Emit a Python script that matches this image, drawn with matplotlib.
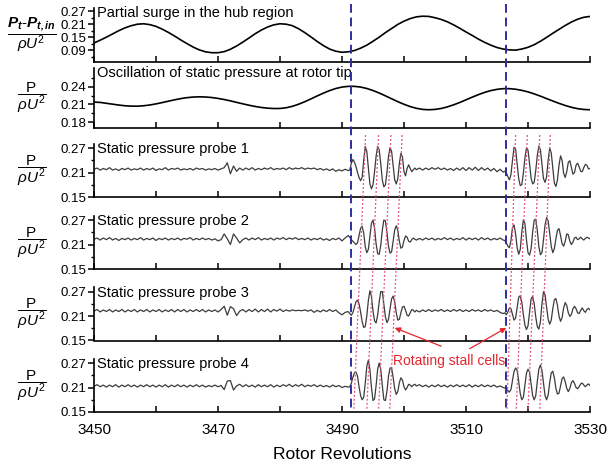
import numpy as np
import matplotlib
matplotlib.use('Agg')
import matplotlib.pyplot as plt
from matplotlib.lines import Line2D
from matplotlib.transforms import blended_transform_factory
from matplotlib.ticker import FixedLocator, FormatStrFormatter

plt.rcParams['font.family'] = ['Liberation Sans', 'DejaVu Sans']
plt.rcParams['mathtext.fontset'] = 'custom'
plt.rcParams['mathtext.rm'] = 'Liberation Sans'
plt.rcParams['mathtext.it'] = 'Liberation Sans:italic'
plt.rcParams['mathtext.bf'] = 'Liberation Sans:bold'
plt.rcParams['mathtext.bfit'] = 'Liberation Sans:italic:bold'

# ---------------- data ----------------
rev_coarse = np.arange(3450, 3531, 1)          # for the two smooth traces

hub_surge = [123, 136, 150, 165, 180, 193, 203, 210, 212,
             208, 200, 187, 172, 155, 137, 120, 104, 91, 82, 78,
             78, 83, 94, 109, 127, 146, 166, 183, 197, 207, 212,
             210, 203, 189, 171, 151, 130, 111, 95, 85, 80,
             82, 88, 99, 113, 131, 150, 171, 190, 209, 224, 236, 244, 247,
             246, 240, 232, 221, 207, 191, 174, 158, 141, 126, 113, 102, 95, 91,
             90, 95, 103, 115, 131, 149, 168, 186, 204, 220, 233, 242, 246]   # x1e-3

tip_static = [2140, 2135, 2120, 2105, 2090, 2078, 2072,
              2071, 2078, 2091, 2110, 2132, 2156, 2179, 2200, 2216, 2226, 2230,
              2227, 2218, 2203, 2184, 2161, 2136, 2111, 2087, 2066, 2049, 2037, 2031,
              2032, 2044, 2069, 2104, 2147, 2195, 2245, 2293, 2336, 2371, 2396, 2408,
              2408, 2396, 2372, 2337, 2295, 2247, 2197, 2148, 2103, 2064, 2035, 2016, 2010,
              2016, 2032, 2059, 2094, 2134, 2179, 2224, 2267, 2305, 2336, 2357, 2369,
              2369, 2359, 2340, 2314, 2280, 2242, 2200, 2159, 2119, 2083, 2052, 2029, 2015, 2010]  # x1e-4

# probe traces: sample grid (quiet parts 0.5 rev, stall parts 0.25 rev)
x_q1 = np.arange(3450.0, 3491.01, 0.5)
x_b1 = np.arange(3491.25, 3502.01, 0.25)
x_q2 = np.arange(3502.5, 3516.01, 0.5)
x_b2 = np.arange(3516.25, 3530.01, 0.25)

probe1_q1 = [218, 221, 216, 220, 217, 222, 216, 219, 215, 220,
             217, 221, 216, 219, 217, 221, 216, 220, 217, 221,
             215, 219, 217, 222, 216, 220, 218, 221, 216, 219,
             217, 220, 216, 221, 218, 220, 216, 219, 217, 220,
             216, 219, 222, 234, 207, 226, 213, 221, 216, 221,
             217, 222, 216, 220, 217, 221, 218, 222, 217, 220,
             218, 221, 217, 222, 218, 221, 219, 222, 218, 221,
             219, 221, 217, 220, 216, 219, 215, 219, 213, 217,
             214, 218, 215]
probe1_b1 = [216, 232, 242, 236, 225, 210, 198, 190, 198, 240, 274, 262,
             222, 182, 170, 180, 212, 250, 274, 266, 232, 192, 175, 180,
             210, 250, 271, 262, 228, 192, 182, 195, 232, 257, 248, 212,
             202, 220, 229, 220, 212, 217, 221, 217]
probe1_q2 = [221, 216, 221, 217, 222, 218, 222, 217, 221, 216,
             220, 215, 221, 216, 222, 215, 222, 216, 223, 215,
             222, 216, 221, 214, 220, 212, 218, 211]
probe1_b2 = [213, 210, 200, 192, 205, 240, 272, 268, 232, 195, 178, 180,
             208, 245, 270, 265, 232, 196, 182, 186, 215, 252, 275, 266,
             230, 195, 186, 200, 240, 270, 258, 220, 184, 176, 192, 228,
             251, 240, 208, 198, 212, 235, 239, 222, 206, 210, 228, 233,
             224, 213, 212, 222, 230, 228, 219, 220]

probe2_q1 = [223, 226, 221, 226, 222, 227, 221, 225, 220, 225,
             222, 226, 221, 225, 222, 227, 221, 225, 222, 226,
             220, 225, 222, 226, 221, 225, 222, 226, 221, 225,
             223, 227, 221, 225, 222, 226, 222, 225, 221, 224,
             219, 222, 236, 224, 210, 236, 226, 214, 222, 226,
             221, 226, 222, 227, 221, 225, 222, 226, 221, 226,
             223, 227, 222, 226, 223, 227, 222, 225, 222, 226,
             221, 225, 222, 226, 221, 224, 220, 225, 222, 226,
             219, 226, 232]
probe2_b1 = [228, 222, 218, 214, 210, 214, 232, 250, 255, 238, 205, 190,
             198, 230, 262, 270, 250, 212, 188, 186, 208, 245, 270, 268,
             240, 205, 189, 192, 218, 246, 256, 245, 218, 201, 204, 220,
             231, 228, 218, 216, 222, 226, 223, 221]
probe2_q2 = [225, 221, 226, 222, 226, 221, 225, 222, 227, 222,
             226, 221, 225, 222, 227, 221, 226, 222, 226, 221,
             227, 222, 226, 221, 225, 222, 226, 221]
probe2_b2 = [220, 214, 206, 202, 220, 252, 258, 236, 202, 186, 198, 240,
             270, 262, 222, 190, 184, 200, 240, 270, 272, 245, 205, 185,
             190, 222, 258, 276, 268, 238, 205, 190, 200, 224, 245, 249,
             232, 212, 206, 218, 236, 234, 218, 210, 216, 226, 228, 222,
             224, 228, 224, 221, 225, 228, 226, 224]

probe3_q1 = [222, 226, 220, 225, 221, 226, 220, 225, 221, 226,
             220, 225, 221, 226, 220, 225, 221, 226, 220, 225,
             221, 226, 220, 225, 221, 226, 220, 226, 221, 226,
             220, 225, 221, 226, 221, 226, 220, 225, 221, 225,
             220, 226, 234, 212, 233, 228, 211, 222, 226, 220,
             226, 221, 227, 220, 226, 221, 227, 220, 226, 222,
             227, 221, 225, 222, 225, 223, 224, 223, 225, 222,
             225, 219, 224, 220, 225, 221, 226, 221, 225, 218,
             213, 219, 221]
probe3_b1 = [216, 212, 218, 232, 245, 249, 240, 220, 196, 182, 184, 210,
             248, 272, 258, 222, 198, 193, 212, 245, 270, 270, 240, 208,
             194, 202, 228, 252, 259, 245, 218, 200, 202, 218, 232, 234,
             224, 212, 210, 218, 226, 224, 220, 224]
probe3_q2 = [220, 225, 221, 226, 221, 225, 222, 226, 221, 225,
             221, 226, 222, 226, 221, 225, 221, 226, 222, 225,
             221, 226, 222, 225, 221, 224, 219, 216]
probe3_b2 = [218, 213, 220, 230, 228, 214, 200, 205, 230, 256, 260, 244,
             214, 188, 177, 186, 220, 252, 258, 240, 208, 184, 178, 196,
             240, 270, 262, 232, 202, 190, 200, 228, 250, 253, 236, 210,
             197, 206, 230, 243, 236, 218, 209, 214, 228, 234, 228, 218,
             216, 224, 230, 223, 219, 226, 229, 225]

probe4_q1 = [213, 217, 212, 216, 211, 216, 212, 217, 211, 216,
             212, 217, 212, 216, 211, 216, 212, 217, 212, 216,
             211, 216, 212, 217, 211, 216, 212, 217, 212, 216,
             211, 216, 212, 217, 212, 216, 211, 215, 212, 216,
             212, 215, 205, 226, 227, 204, 214, 218, 212, 217,
             212, 216, 211, 217, 212, 216, 212, 217, 211, 216,
             212, 217, 213, 218, 212, 217, 213, 218, 212, 216,
             213, 217, 212, 216, 212, 215, 211, 216, 212, 215,
             210, 213, 211]
probe4_b1 = [212, 220, 235, 246, 248, 238, 212, 190, 180, 186, 220, 262,
             277, 255, 210, 178, 182, 215, 255, 270, 255, 215, 180, 178,
             200, 238, 258, 258, 235, 207, 193, 200, 222, 234, 228, 212,
             204, 210, 218, 216, 212, 216, 218, 214]
probe4_q2 = [217, 212, 216, 211, 216, 212, 217, 212, 216, 211,
             216, 212, 217, 212, 216, 212, 217, 211, 216, 212,
             217, 212, 216, 212, 216, 211, 214, 210]
probe4_b2 = [209, 206, 203, 199, 205, 228, 250, 258, 252, 225, 195, 180,
             186, 215, 245, 255, 248, 220, 190, 180, 190, 225, 255, 265,
             252, 220, 190, 180, 192, 222, 246, 250, 234, 208, 194, 196,
             214, 232, 236, 224, 208, 200, 208, 222, 227, 220, 210, 207,
             212, 219, 221, 216, 212, 216, 219, 215]

# surge-onset markers and stall-cell trajectories (rotor revolutions)
onset_revs = [3491.45, 3516.45]
cell_top_revs = [3493.8, 3495.9, 3497.9, 3499.7, 3518.0, 3519.9, 3521.9, 3523.6]
cell_bottom_revs = [3491.9, 3494.0, 3495.9, 3497.7, 3516.6, 3518.1, 3520.0, 3521.9]

titles = ['Partial surge in the hub region',
          'Oscillation of static pressure at rotor tip',
          'Static pressure probe 1', 'Static pressure probe 2',
          'Static pressure probe 3', 'Static pressure probe 4']
x_ticks = [3450, 3470, 3490, 3510, 3530]

# ---------------- assemble ----------------
x_fine = np.concatenate([x_q1, x_b1, x_q2, x_b2])
probes = []
for segs in [(probe1_q1, probe1_b1, probe1_q2, probe1_b2),
             (probe2_q1, probe2_b1, probe2_q2, probe2_b2),
             (probe3_q1, probe3_b1, probe3_q2, probe3_b2),
             (probe4_q1, probe4_b1, probe4_q2, probe4_b2)]:
    lens = [len(s) for s in segs]
    assert lens == [len(x_q1), len(x_b1), len(x_q2), len(x_b2)], (lens, [len(x_q1), len(x_b1), len(x_q2), len(x_b2)])
    probes.append(np.concatenate([np.array(s, float) for s in segs]) / 1000.0)

# ---------------- figure ----------------
W, H = 615, 470
fig = plt.figure(figsize=(W / 100, H / 100), dpi=100)

left, right = 94, 590
# (top_px, bottom_px) for each panel
panels_px = [(8, 62), (68, 128), (144, 197), (216, 269), (287.5, 340.5), (359, 412)]
axes = []
for (t, b) in panels_px:
    ax = fig.add_axes([left / W, 1 - b / H, (right - left) / W, (b - t) / H])
    ax.patch.set_visible(False)
    axes.append(ax)

frac_P = r'$\dfrac{\mathrm{P}}{\rho U^2}$'
frac_top = r'$\dfrac{\mathbfit{P_t}\text{-}\mathbfit{P_{t,in}}}{\rho U^2}$'

ylims = [(0.035, 0.285), (0.17, 0.272)] + [(0.15, 0.28)] * 4
yticks_major = [[0.09, 0.15, 0.21, 0.27], [0.18, 0.21, 0.24]] + [[0.15, 0.21, 0.27]] * 4
yticks_minor = [[0.06, 0.12, 0.18, 0.24], [0.195, 0.225, 0.255]] + [[0.18, 0.24]] * 4

for i, ax in enumerate(axes):
    ax.set_xlim(3450, 3530)
    ax.set_ylim(*ylims[i])
    for s in ['top', 'right']:
        ax.spines[s].set_visible(False)
    for s in ['left', 'bottom']:
        ax.spines[s].set_linewidth(1.2)
    ax.xaxis.set_major_locator(FixedLocator(x_ticks))
    ax.xaxis.set_minor_locator(FixedLocator([3460, 3480, 3500, 3520]))
    ax.yaxis.set_major_locator(FixedLocator(yticks_major[i]))
    ax.yaxis.set_minor_locator(FixedLocator(yticks_minor[i]))
    ax.yaxis.set_major_formatter(FormatStrFormatter('%.2f'))
    ax.tick_params(axis='x', which='both', direction='in', length=4, width=1.1, top=False,
                   labelbottom=(i == 5), labelsize=11, pad=8)
    ax.tick_params(axis='y', which='major', direction='out', length=4, width=1.1,
                   labelsize=9.5, pad=1.5)
    ax.tick_params(axis='y', which='minor', direction='out', length=2.5, width=1.0)
    ax.text(0.006, 1.03, titles[i], transform=ax.transAxes, ha='left', va='top', fontsize=10.5)
    ax.set_ylabel(frac_top if i == 0 else frac_P, rotation=0, fontsize=11, ha='center', va='center')
    ax.yaxis.set_label_coords(-0.125, 0.5)

axes[0].plot(rev_coarse, np.array(hub_surge) / 1000.0, color='black', lw=1.2)
axes[1].plot(rev_coarse, np.array(tip_static) / 10000.0, color='black', lw=1.2)
for k in range(4):
    axes[2 + k].plot(x_fine, probes[k], color='#3c3c3c', lw=0.9)

axes[5].set_xlabel('Rotor Revolutions', fontsize=12.5, labelpad=7)

# figure-spanning markers
trans = blended_transform_factory(axes[5].transData, fig.transFigure)
for xr in onset_revs:
    fig.add_artist(Line2D([xr, xr], [1 - 4 / H, 1 - 410 / H], transform=trans,
                          color='#2e2e9c', lw=1.4, dashes=(4.5, 2.5)))
for xt, xb in zip(cell_top_revs, cell_bottom_revs):
    fig.add_artist(Line2D([xt, xb], [1 - 135 / H, 1 - 410 / H], transform=trans,
                          color='#e2587a', lw=0.9, dashes=(1.6, 1.6)))

red = '#e3262e'
axes[4].annotate('', xy=(3498.5, 0.181), xytext=(3506.0, 0.136),
                 arrowprops=dict(arrowstyle='-|>', color=red, lw=0.9, mutation_scale=8,
                                 shrinkA=0, shrinkB=0), annotation_clip=False)
axes[4].annotate('', xy=(3516.5, 0.181), xytext=(3510.6, 0.130),
                 arrowprops=dict(arrowstyle='-|>', color=red, lw=0.9, mutation_scale=8,
                                 shrinkA=0, shrinkB=0), annotation_clip=False)
axes[5].text(3507.3, 0.275, 'Rotating stall cells', color=red, fontsize=10,
             ha='center', va='center', clip_on=False)

fig.savefig('out.png', dpi=100)
